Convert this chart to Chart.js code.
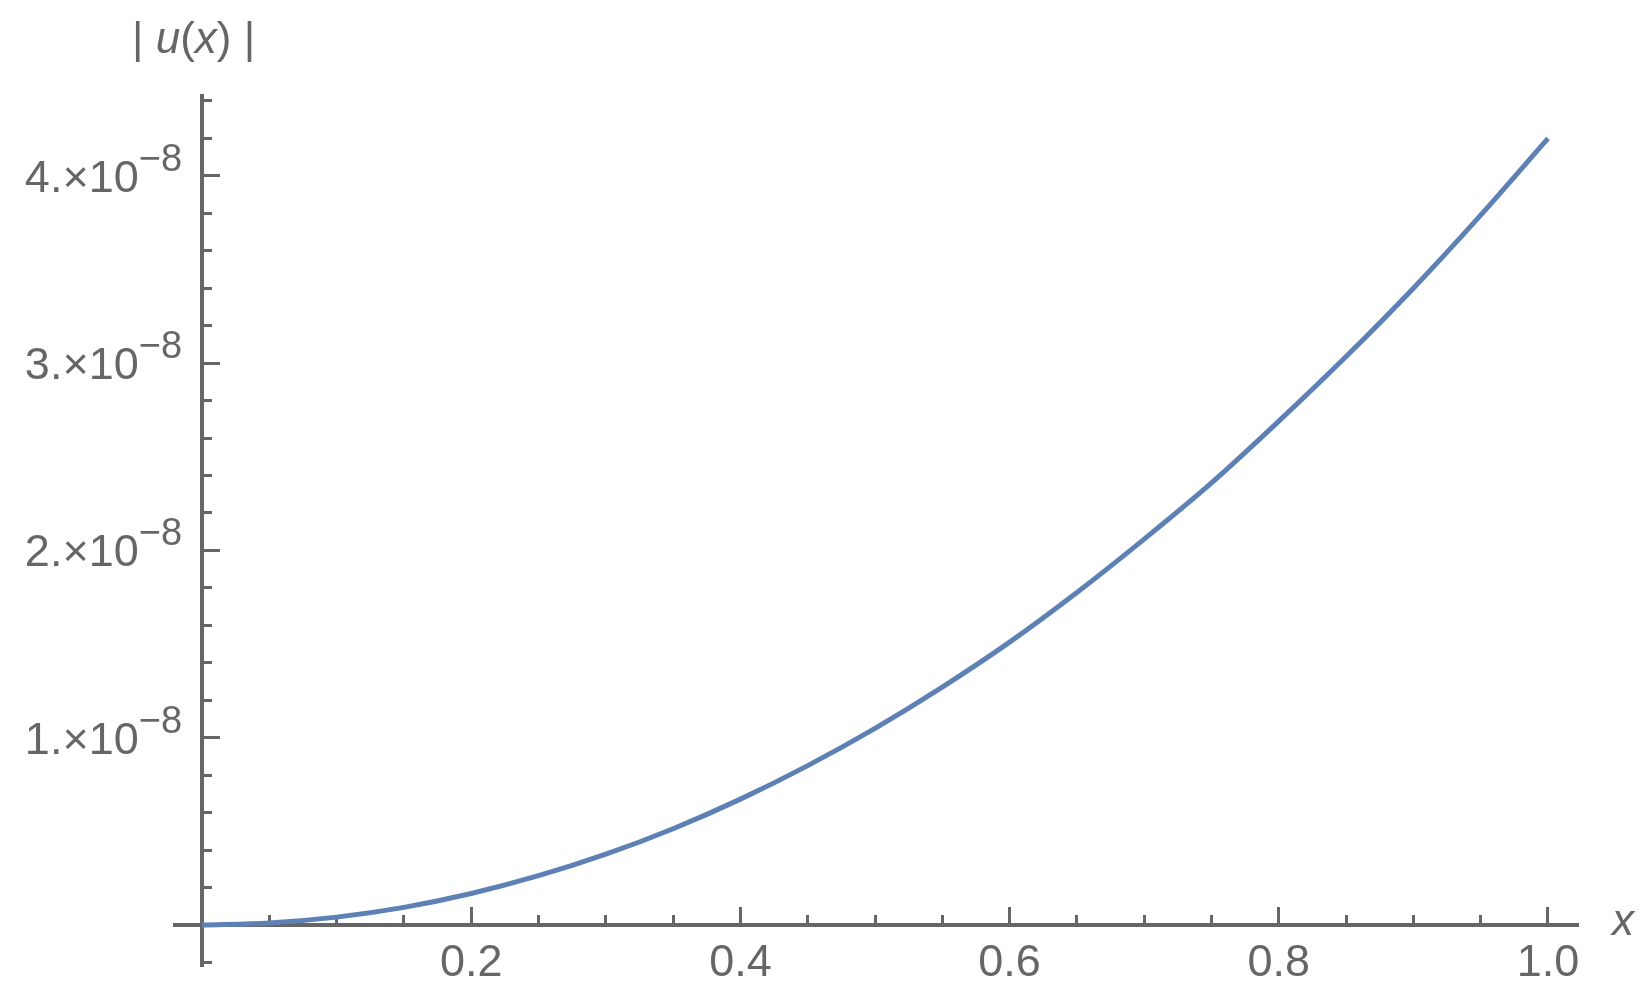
<!DOCTYPE html>
<html>
<head>
<meta charset="utf-8">
<script src="https://cdn.jsdelivr.net/npm/chart.js@4"></script>
<style>
  html, body { margin: 0; padding: 0; background: #fff; }
  #wrap { position: relative; width: 1648px; height: 999px; }
</style>
</head>
<body>
<div id="wrap"><canvas id="c"></canvas></div>
<script>
// ---- data ----
const xValues = [0, 0.05, 0.10, 0.15, 0.20, 0.25, 0.30, 0.35, 0.40, 0.45, 0.50,
                 0.55, 0.60, 0.65, 0.70, 0.75, 0.80, 0.85, 0.90, 0.95, 1.00];
const uValues = [0, 0.011e-8, 0.042e-8, 0.094e-8, 0.168e-8, 0.263e-8, 0.378e-8, 0.514e-8, 0.672e-8, 0.851e-8, 1.05e-8,
                 1.27e-8, 1.51e-8, 1.775e-8, 2.06e-8, 2.36e-8, 2.69e-8, 3.035e-8, 3.40e-8, 3.79e-8, 4.20e-8];

const xMajorTicks = [0.2, 0.4, 0.6, 0.8, 1.0];
const xTickLabels = ['0.2', '0.4', '0.6', '0.8', '1.0'];
const xMinorTicks = [0.05, 0.1, 0.15, 0.25, 0.3, 0.35, 0.45, 0.5, 0.55, 0.65, 0.7, 0.75, 0.85, 0.9, 0.95];

const yMajorTicks = [1e-8, 2e-8, 3e-8, 4e-8];
const yTickMantissas = ['1.', '2.', '3.', '4.'];
const yTickExponent = '\u22128';
const yMinorTicks = [-0.2e-8, 0.2e-8, 0.4e-8, 0.6e-8, 0.8e-8, 1.2e-8, 1.4e-8, 1.6e-8, 1.8e-8,
                     2.2e-8, 2.4e-8, 2.6e-8, 2.8e-8, 3.2e-8, 3.4e-8, 3.6e-8, 3.8e-8, 4.2e-8, 4.4e-8];

const yAxisTitle = [['|', false], [' ', false], ['u', true], ['(', false], ['x', true], [')', false], [' ', false], ['|', false]];
const xAxisTitle = 'x';

// ---- styling ----
const AXIS = '#666666';
const TEXT = '#666666';
const CURVE = '#5E81B5';
const FONT = "'Liberation Sans', Arial, sans-serif";
const X_MIN = -0.0201, X_MAX = 1.0223;
const Y_MIN = -0.219e-8, Y_MAX = 4.426e-8;

const labelPlugin = {
  id: 'mmaLabels',
  afterDraw(chart) {
    const ctx = chart.ctx;
    const xs = chart.scales.x, ys = chart.scales.y;
    const px0 = xs.getPixelForValue(0);
    const py0 = ys.getPixelForValue(0);
    ctx.save();
    ctx.fillStyle = TEXT;
    ctx.textAlign = 'left';
    ctx.textBaseline = 'alphabetic';
    yMajorTicks.forEach((v, i) => {
      const py = ys.getPixelForValue(v);
      const main = yTickMantissas[i] + '\u00D710';
      ctx.font = `45px ${FONT}`;
      const w1 = ctx.measureText(main).width;
      ctx.font = `38px ${FONT}`;
      const w2 = ctx.measureText(yTickExponent).width;
      const sx = px0 - 20 - w1 - w2;
      ctx.font = `45px ${FONT}`;
      ctx.fillText(main, sx, py + 16);
      ctx.font = `38px ${FONT}`;
      ctx.fillText(yTickExponent, sx + w1, py - 5);
    });
    // y axis title
    let tx = px0 - 70;
    const ty = chart.chartArea.top - 43;
    yAxisTitle.forEach(([s, it]) => {
      ctx.font = `${it ? 'italic ' : ''}44px ${FONT}`;
      ctx.fillText(s, tx, ty);
      tx += ctx.measureText(s).width;
    });
    // x axis title
    ctx.font = `italic 44px ${FONT}`;
    ctx.fillText(xAxisTitle, xs.right + 34, py0 + 10);
    ctx.restore();
  }
};

const setTicks = (vals) => (scale) => { scale.ticks = vals.map(v => ({ value: v })); };

new Chart(document.getElementById('c'), {
  type: 'line',
  data: {
    datasets: [{
      data: xValues.map((x, i) => ({ x: x, y: uValues[i] })),
      borderColor: CURVE,
      borderWidth: 5,
      pointRadius: 0,
      fill: false,
      cubicInterpolationMode: 'monotone'
    }]
  },
  options: {
    responsive: true,
    maintainAspectRatio: false,
    animation: false,
    layout: { padding: { left: 175, right: 70, top: 96, bottom: 33 } },
    plugins: { legend: { display: false }, tooltip: { enabled: false }, title: { display: false } },
    scales: {
      xMinor: {
        type: 'linear', axis: 'x', position: { y: 0 }, min: X_MIN, max: X_MAX,
        afterBuildTicks: setTicks(xMinorTicks),
        border: { display: false },
        grid: { drawOnChartArea: false, drawTicks: true, tickLength: -10, tickColor: AXIS, tickWidth: 3 },
        ticks: { display: false }
      },
      yMinor: {
        type: 'linear', axis: 'y', position: { x: 0 }, min: Y_MIN, max: Y_MAX,
        afterBuildTicks: setTicks(yMinorTicks),
        border: { display: false },
        grid: { drawOnChartArea: false, drawTicks: true, tickLength: -10, tickColor: AXIS, tickWidth: 3 },
        ticks: { display: false }
      },
      x: {
        type: 'linear', position: { y: 0 }, min: X_MIN, max: X_MAX,
        afterBuildTicks: setTicks(xMajorTicks),
        border: { display: true, color: AXIS, width: 4 },
        grid: { drawOnChartArea: false, drawTicks: true, tickLength: -20, tickColor: AXIS, tickWidth: 3 },
        ticks: {
          autoSkip: false, maxRotation: 0, minRotation: 0, padding: 32, color: TEXT,
          font: { family: FONT, size: 45, lineHeight: 1.2 },
          callback: (v, i) => xTickLabels[i]
        }
      },
      y: {
        type: 'linear', position: { x: 0 }, min: Y_MIN, max: Y_MAX,
        afterBuildTicks: setTicks(yMajorTicks),
        border: { display: true, color: AXIS, width: 4 },
        grid: { drawOnChartArea: false, drawTicks: true, tickLength: -20, tickColor: AXIS, tickWidth: 3 },
        ticks: { autoSkip: false, callback: () => '' }
      }
    }
  },
  plugins: [labelPlugin]
});
</script>
</body>
</html>
